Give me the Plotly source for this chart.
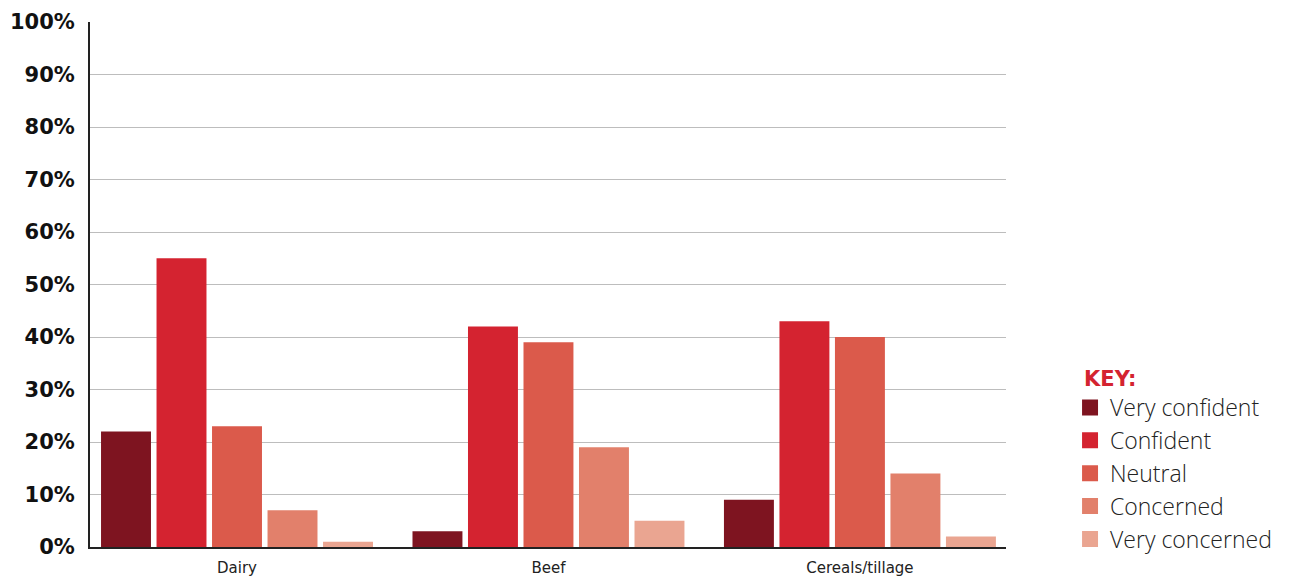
import plotly.graph_objects as go

categories = ["Dairy", "Beef", "Cereals/tillage"]
series_names = ["Very confident", "Confident", "Neutral", "Concerned", "Very concerned"]
very_confident = [22, 3, 9]
confident = [55, 42, 43]
neutral = [23, 39, 40]
concerned = [7, 19, 14]
very_concerned = [1, 5, 2]
series_values = [very_confident, confident, neutral, concerned, very_concerned]
colors = ["#7E1420", "#D42330", "#DB5A4B", "#E2806B", "#EAA591"]
y_ticks = [0, 10, 20, 30, 40, 50, 60, 70, 80, 90, 100]
y_tick_labels = [f"{v}%" for v in y_ticks]

fig = go.Figure()
for name, vals, col in zip(series_names, series_values, colors):
    fig.add_trace(go.Bar(x=categories, y=vals, name=name, marker_color=col,
                         marker_line_width=0, showlegend=False))
for name, col in zip(series_names, colors):
    fig.add_trace(go.Scatter(x=[None], y=[None], mode="markers", name=name,
                             marker=dict(symbol="square", size=16, color=col),
                             showlegend=True))

fig.update_layout(
    width=1304, height=578,
    margin=dict(l=90, r=298, t=22, b=31, pad=0),
    paper_bgcolor="white", plot_bgcolor="white",
    barmode="group", bargap=0.109, bargroupgap=0.1,
    legend=dict(
        title=dict(text="<b>KEY:</b>", font=dict(family="DejaVu Sans", size=21, color="#D42330")),
        font=dict(family="Open Sans", size=23, color="#222222", weight=300),
        x=1.083, xanchor="left", xref="paper", y=-0.026, yanchor="bottom",
        itemsizing="trace", tracegroupgap=0, bgcolor="rgba(0,0,0,0)",
        borderwidth=0, indentation=-12,
    ),
    xaxis=dict(
        type="category", range=[-0.472, 2.469], showgrid=False, automargin=False,
        showline=True, linecolor="#222222", linewidth=2,
        tickfont=dict(family="DejaVu Sans", size=15, color="#222222"),
        ticks="", ticklabelstandoff=6, zeroline=False,
    ),
    yaxis=dict(
        range=[0, 100], tickvals=y_ticks, ticktext=y_tick_labels, automargin=False,
        showgrid=True, gridcolor="#BDBDBD", gridwidth=1.3,
        showline=True, linecolor="#222222", linewidth=2,
        tickfont=dict(family="DejaVu Sans", size=21, color="#111111", weight="bold"),
        ticks="", ticklabelstandoff=9, zeroline=False,
    ),
)

fig.write_html("out.html")
